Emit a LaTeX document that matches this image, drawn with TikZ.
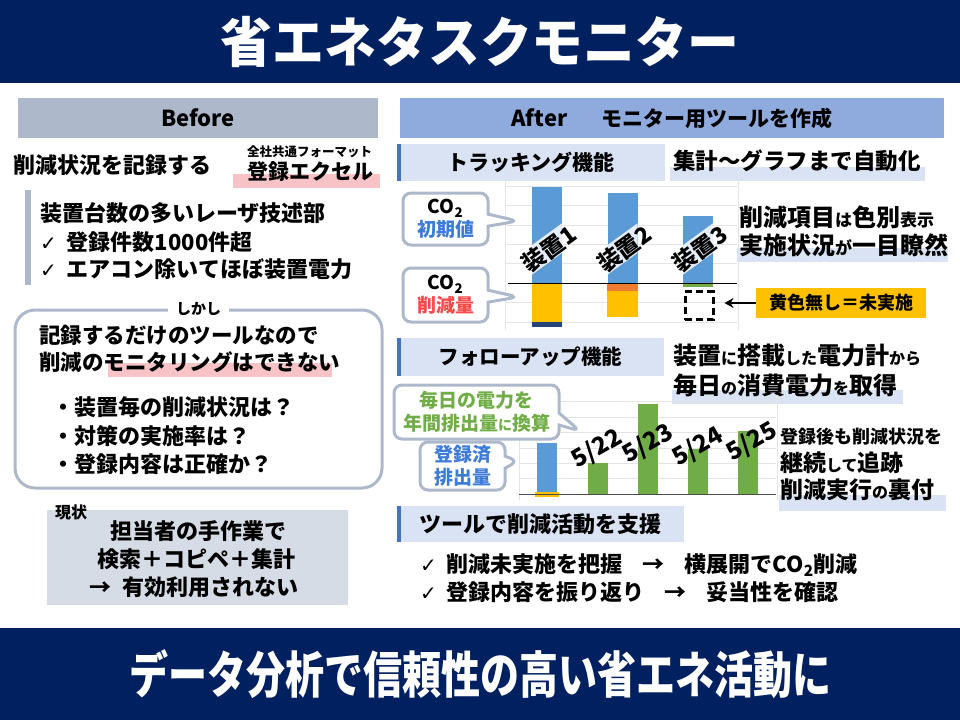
\documentclass[tikz,border=0pt]{standalone}
\usepackage{fontspec}
\setmainfont{Noto Sans CJK JP}
\newfontfamily\checkfont{DejaVu Sans}
\usetikzlibrary{arrows.meta,shapes.callouts}
% colours
\definecolor{navyband}{HTML}{002060}
\definecolor{headgray}{HTML}{ADB9CA}
\definecolor{headblue}{HTML}{8FAADC}
\definecolor{paleblue}{HTML}{DAE3F3}
\definecolor{accentblue}{HTML}{4472C4}
\definecolor{boxgray}{HTML}{D6DCE5}
\definecolor{markpink}{HTML}{F8C3C7}
\definecolor{barblue}{HTML}{5B9BD5}
\definecolor{baryellow}{HTML}{FFC000}
\definecolor{barorange}{HTML}{ED7D31}
\definecolor{bargreen}{HTML}{70AD47}
\definecolor{bardark}{HTML}{264478}
\definecolor{textblue}{HTML}{3D7BD9}
\definecolor{textred}{HTML}{FF4747}
\definecolor{gridgray}{HTML}{E4E4E4}
\newcommand{\setfs}[2]{\fontsize{#1pt}{#2pt}\selectfont}
\newcommand{\lo}[2]{{\setfs{#1}{#1}#2}}
\newcommand{\ck}{{\checkfont\mdseries\setfs{20}{20}✓}}
\tikzset{
  band/.style={fill=navyband, text=white, inner sep=0pt, minimum width=960},
  headbar/.style={minimum height=40, inner sep=0pt, font=\setfs{22}{26}\bfseries},
  secbox/.style={fill=paleblue, minimum height=37, inner sep=0pt,
    font=\setfs{21}{25}\bfseries,
    path picture={\fill[accentblue] (path picture bounding box.south west)
      rectangle ([xshift=4pt]path picture bounding box.north west);}},
  txt/.style={inner sep=0pt, anchor=west, font=\setfs{22}{26}\bfseries},
  bubble/.style={rectangle callout, draw=headgray, line width=3pt,
    rounded corners=8pt, fill=white, align=center, inner sep=0pt,
    callout pointer width=12pt, font=\setfs{19}{23}\bfseries},
  gridline/.style={draw=gridgray, line width=0.6pt},
  barband/.style={rotate=36, fill=white!60!paleblue, fill opacity=0.92,
    minimum width=90, minimum height=24, inner sep=0pt},
  barlabel/.style={rotate=36, inner sep=0pt, font=\setfs{23}{23}\bfseries},
  datelabel/.style={rotate=30, inner sep=0pt, font=\setfs{24}{24}\bfseries},
}
\begin{document}
\begin{tikzpicture}[x=1pt,y=-1pt]
  \fill[white] (0,0) rectangle (960,720);
  \useasboundingbox (0,0) rectangle (960,720);
  \newcommand{\trackBar}[4]{
    % args:
    %     left edge of the bar
    %     top of the blue part
    %     node name
    %     label text
    \fill[barblue] (#1,#2) rectangle (#1+30,283);
    \begin{scope}
      \clip (#1,#2) rectangle (#1+30,283);
      \node[barband] at (#1+15,249) {};
    \end{scope}
    \node[barlabel] (#3) at (#1+17,249) {#4};
  }
  % title and closing bands
  \node[band, minimum height=83] (title) at (480,41.5)
    {\setfs{54}{54}\bfseries\scalebox{0.96}[1]{省エネタスクモニター}};
  \node[band, minimum height=92] (slogan) at (480,674)
    {\setfs{50}{50}\bfseries\scalebox{0.78}[1]{データ分析で信頼性の高い省エネ活動に}};
  %
  % before column
  \node[headbar, fill=headgray, minimum width=360] (before) at (198,118) {Before};
  \node[txt] (record) at (13,165) {削減状況を記録する};
  \node[txt, font=\setfs{12.5}{13}\bfseries] (format) at (247,152) {全社共通フォーマット};
  \fill[markpink] (233,174) rectangle (380,188);
  \node[txt, font=\setfs{21}{24}\bfseries] (excel) at (247,172) {登録エクセル};
  \fill[headgray] (25,190) rectangle (31,285);
  \node[txt] (dept) at (40,213) {装置台数の多いレーザ技述部};
  \node[txt] (count) at (40,242) {\ck\hspace{10pt}登録件数1000件超};
  \node[txt] (power) at (40,269) {\ck\hspace{10pt}エアコン除いてほぼ装置電力};
  \node[draw=headgray, line width=3pt, rounded corners=20pt,
    minimum width=367, minimum height=178] (butbox) at (198.5,399) {};
  \node[fill=white, inner xsep=8pt, inner ysep=0pt, font=\setfs{15}{15}\bfseries]
    (however) at (butbox.north) {しかし};
  \node[txt, font=\setfs{21.5}{26}\bfseries] (onlyrec) at (39,335) {記録するだけのツールなので};
  \fill[markpink] (108,363) rectangle (332,377);
  \node[txt, font=\setfs{21.5}{26}\bfseries] (nomon) at (39,362) {削減のモニタリングはできない};
  \node[txt] (q1) at (52,407) {・装置毎の削減状況は？};
  \node[txt] (q2) at (52,436) {・対策の実施率は？};
  \node[txt] (q3) at (52,464) {・登録内容は正確か？};
  \node[fill=boxgray, minimum width=301, minimum height=95, inner sep=0pt]
    (nowbox) at (197.5,557.5) {};
  \node[txt, font=\setfs{16}{16}\bfseries] (now) at (55,512) {現状};
  \node[txt, anchor=center] (manual) at (198,531) {担当者の手作業で};
  \node[txt, anchor=center] (steps) at (196,559) {検索＋コピペ＋集計};
  \node[txt, anchor=center] (unused) at (194,587) {→\hspace{12pt}有効利用されない};
  %
  % after column
  \node[headbar, fill=headblue, minimum width=544] (after) at (672,118)
    {After\hspace{34pt}{\setfs{21}{26}モニター用ツールを作成}};
  \node[secbox, minimum width=268] (track) at (531,162) {トラッキング機能};
  \fill[paleblue] (670,167) rectangle (925,181);
  \node[txt, font=\setfs{22.5}{26}\bfseries] (auto) at (673,161) {集計～グラフまで自動化};
  % chart of the tracking function
  \foreach \gy in {186,205.4,224.8,244.2,263.6,302.4,321.8}
    \draw[gridline] (505,\gy) -- (737,\gy);
  \draw[gridline] (505,180) -- (505,330);
  \draw[gridline] (738,180) -- (738,330);
  \fill[baryellow] (532,283) rectangle (562,322);
  \fill[bardark] (532,322) rectangle (562,327);
  \fill[barorange] (607,283) rectangle (638,291);
  \fill[baryellow] (607,291) rectangle (638,317);
  \fill[bargreen] (683,283) rectangle (713,287);
  \trackBar{532}{187}{unit1}{装置1}
  \trackBar{607.5}{193}{unit2}{装置2}
  \trackBar{683}{216}{unit3}{装置3}
  \draw[black, line width=1pt] (508,283) -- (737,283);
  \node[bubble, minimum width=85, minimum height=52,
    callout absolute pointer={(518,221)}] (initval) at (445.5,219)
    {CO\textsubscript{2}\\\textcolor{textblue}{初期値}};
  \node[bubble, minimum width=85, minimum height=54,
    callout absolute pointer={(518,297)}] (cutval) at (445.5,295)
    {CO\textsubscript{2}\\\textcolor{textred}{削減量}};
  \node[txt, font=\setfs{24}{28}\bfseries] (colour) at (739,217)
    {削減項目\lo{17}{は}色別\lo{17}{表示}};
  \fill[paleblue] (737,248) rectangle (948,262);
  \node[txt, font=\setfs{24}{28}\bfseries] (glance) at (739,245)
    {実施状況\lo{17}{が}一目瞭然};
  \node[draw=black, dash pattern=on 7pt off 4pt, line width=3pt,
    minimum width=28, minimum height=28, inner sep=0pt] (dashbox) at (699,305.5) {};
  \node[fill=baryellow, minimum width=170, minimum height=30, inner sep=0pt,
    font=\setfs{18}{18}\bfseries] (note) at (841,303) {黄色無し＝未実施};
  \draw[-{Stealth[length=9pt,width=10pt]}, line width=2.2pt, shorten >=10pt]
    (note.west) -- (note.west -| dashbox.east);
  %
  % follow-up function
  \node[secbox, minimum width=267, minimum height=38] (follow) at (530.5,357)
    {\setfs{20.5}{25}フォローアップ機能};
  \node[txt, font=\setfs{24}{28}\bfseries] (meter) at (673,355)
    {装置\lo{16}{に}搭載\lo{16}{した}電力計\lo{16}{から}};
  \fill[paleblue] (672,390) rectangle (903,404);
  \node[txt, font=\setfs{24}{28}\bfseries] (daily) at (673,385)
    {毎日\lo{16}{の}消費電力\lo{16}{を}取得};
  % chart of the follow-up function
  \foreach \gy in {401.6,417,432.4,447.8,463.2,478.6}
    \draw[gridline] (519,\gy) -- (776,\gy);
  \draw[gridline] (519,395) -- (519,500);
  \draw[gridline] (777,395) -- (777,500);
  \fill[barblue] (537,443) rectangle (557,494);
  \fill[baryellow] (535,492) rectangle (559,497);
  \foreach \bx/\by/\bn/\lx/\ly in {588/463/22/597/449, 638/404/23/648/444,
      688/449/24/698/447, 738/431/25/752/442}{
    \fill[bargreen] (\bx,\by) rectangle (\bx+20,494);
    \node[datelabel] (day\bn) at (\lx,\ly) {5/\bn};
  }
  \draw[black!70, line width=0.8pt] (519,494) -- (776,494);
  \node[bubble, minimum width=165, minimum height=54,
    callout absolute pointer={(580,431)}] (convert) at (476.5,412)
    {\textcolor{bargreen}{毎日の電力を}\\\textcolor{bargreen}{年間排出量\lo{14}{に}換算}};
  \node[bubble, minimum width=85, minimum height=48,
    callout absolute pointer={(518,461)}] (stored) at (462.5,466)
    {\textcolor{textblue}{登録済}\\\textcolor{textblue}{排出量}};
  \node[txt, font=\setfs{18}{20}\bfseries] (after1) at (780,437) {登録後も削減状況を};
  \node[txt, font=\setfs{23}{26}\bfseries] (after2) at (780,463) {継続\lo{16}{して}追跡};
  \fill[paleblue] (779,495) rectangle (946,511);
  \node[txt, font=\setfs{23}{26}\bfseries] (after3) at (780,490) {削減実行\lo{16}{の}裏付};
  %
  % support by the tool
  \node[secbox, minimum width=287, minimum height=36] (tool) at (540.5,524)
    {\setfs{22}{26}ツールで削減活動を支援};
  \node[txt] (spread) at (420,565)
    {\ck\hspace{10pt}削減未実施を把握\hspace{20pt}→\hspace{20pt}横展開でCO\textsubscript{2}削減};
  \node[txt] (review) at (420,592)
    {\ck\hspace{10pt}登録内容を振り返り\hspace{20pt}→\hspace{20pt}妥当性を確認};
\end{tikzpicture}
\end{document}
